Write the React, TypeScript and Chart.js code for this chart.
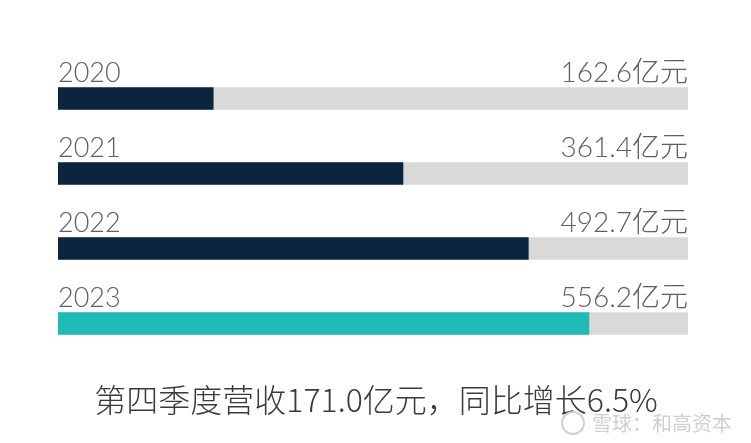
import React, { useEffect, useRef } from "react";
import { Chart, registerables } from "chart.js";

Chart.register(...registerables);

const years = ["2020", "2021", "2022", "2023"];
const revenue = [162.6, 361.4, 492.7, 556.2];
const valueLabels = ["162.6亿元", "361.4亿元", "492.7亿元", "556.2亿元"];
const trackMax = 660;
const track = [660, 660, 660, 660];
const barColors = ["#0b2540", "#0b2540", "#0b2540", "#1fbbb6"];
const caption = "第四季度营收171.0亿元，同比增长6.5%";
const watermark = "雪球：和高资本";

const labelPlugin = {
  id: "labelPlugin",
  afterDatasetsDraw(chart: any) {
    const ctx = chart.ctx;
    const meta = chart.getDatasetMeta(1);
    const area = chart.chartArea;
    ctx.save();
    meta.data.forEach((bar: any, i: number) => {
      const top = bar.y - 11;
      ctx.fillStyle = "#606060";
      ctx.font = "300 27px Lato, 'Noto Sans CJK SC', sans-serif";
      ctx.textBaseline = "alphabetic";
      ctx.textAlign = "left";
      ctx.fillText(years[i], area.left, top - 6);
      ctx.textAlign = "right";
      ctx.font = "300 28px Lato, 'Noto Sans CJK SC', sans-serif";
      ctx.fillText(valueLabels[i], area.right, top - 6);
    });
    ctx.fillStyle = "#3a3a3a";
    ctx.textAlign = "center";
    ctx.font = "300 32px 'Noto Sans CJK SC', sans-serif";
    ctx.fillText(caption, 376, 412);
    ctx.fillStyle = "#cfcfcf";
    ctx.textAlign = "left";
    ctx.font = "400 20px 'Noto Sans CJK SC', sans-serif";
    ctx.fillText(watermark, 592, 431);
    ctx.strokeStyle = "#d0d0d0";
    ctx.lineWidth = 2;
    ctx.beginPath();
    ctx.arc(573, 423, 11, 0, Math.PI * 2);
    ctx.stroke();
    ctx.restore();
  },
};

export default function App() {
  const ref = useRef<HTMLCanvasElement>(null);
  useEffect(() => {
    if (!ref.current) return;
    const chart = new Chart(ref.current, {
      type: "bar",
      data: {
        labels: years,
        datasets: [
          {
            data: track,
            backgroundColor: "#d9d9d9",
            barThickness: 22,
            grouped: false,
            order: 2,
          } as any,
          {
            data: revenue,
            backgroundColor: barColors,
            barThickness: 22,
            grouped: false,
            order: 1,
          } as any,
        ],
      },
      options: {
        indexAxis: "y",
        animation: false,
        responsive: false,
        maintainAspectRatio: false,
        layout: { padding: { left: 58, right: 63, top: 61, bottom: 82 } },
        scales: {
          x: { display: false, min: 0, max: trackMax },
          y: { display: false },
        },
        plugins: { legend: { display: false }, tooltip: { enabled: false } },
      },
      plugins: [labelPlugin],
    });
    return () => chart.destroy();
  }, []);
  return (
    <div style={{ position: "fixed", left: 0, top: 0, width: 751, height: 443, background: "#fff" }}>
      <canvas ref={ref} width={751} height={443} style={{ width: 751, height: 443 }} />
    </div>
  );
}
